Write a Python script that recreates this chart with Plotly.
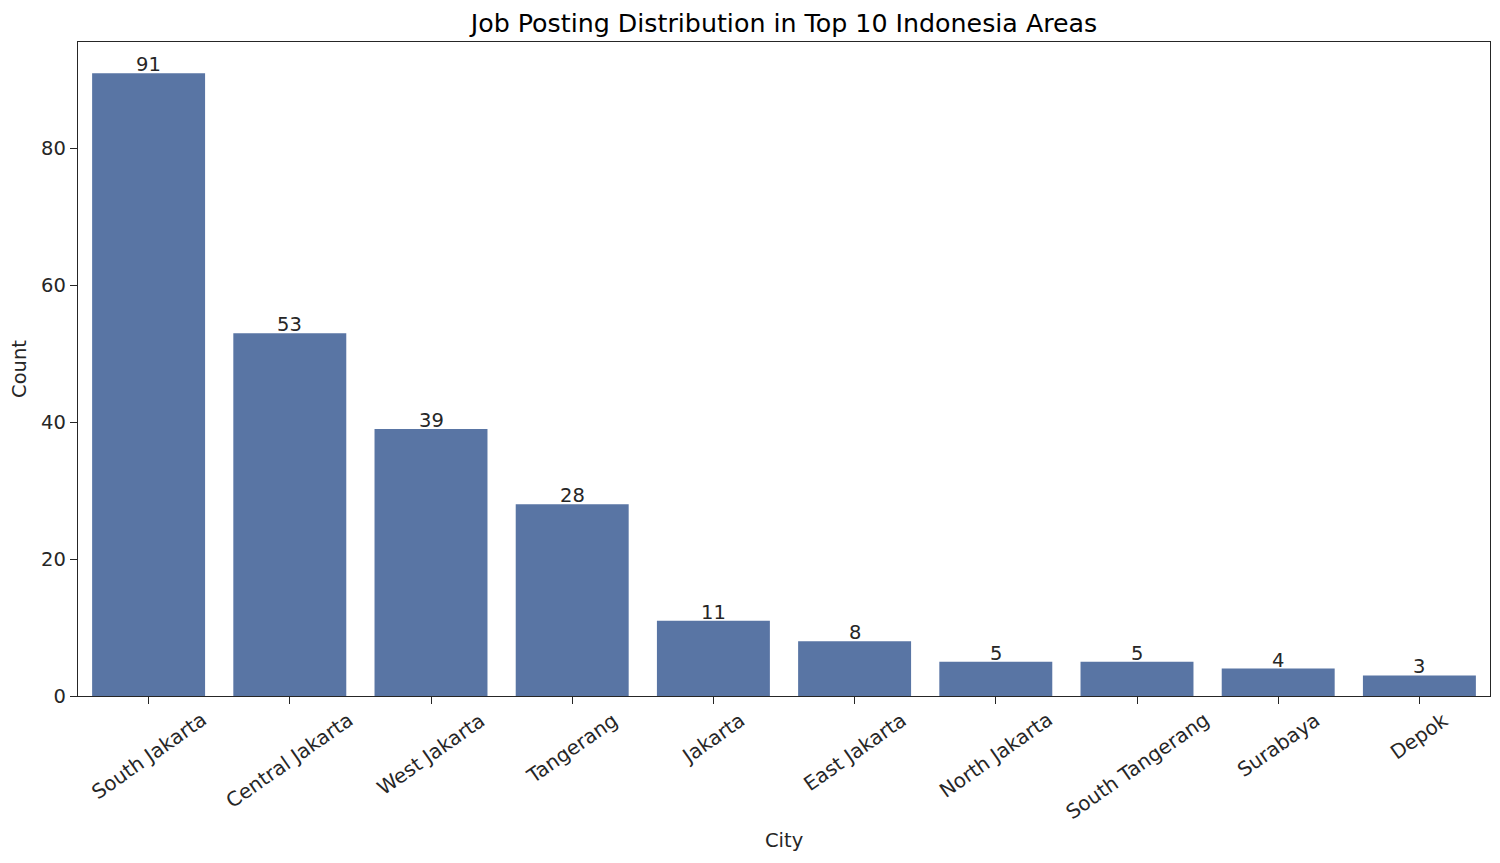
import plotly.graph_objects as go

cities = ["South Jakarta", "Central Jakarta", "West Jakarta", "Tangerang", "Jakarta",
          "East Jakarta", "North Jakarta", "South Tangerang", "Surabaya", "Depok"]
counts = [91, 53, 39, 28, 11, 8, 5, 5, 4, 3]
yticks = [0, 20, 40, 60, 80]

FONT = "DejaVu Sans"
BAR = "#5975a4"
INK = "#262626"

# page body adds an 8px offset; size/margins compensate for it
W, H = 1492, 855
L, R, T, B = 70, 10, 34, 167
PH = H - T - B

fig = go.Figure()
fig.add_trace(go.Bar(x=list(range(len(cities))), y=counts, marker_color=BAR,
                     marker_line_width=0, width=0.8, hoverinfo="x+y"))

annotations = []
for i, (c, v) in enumerate(zip(cities, counts)):
    annotations.append(dict(x=i, y=v, xref="x", yref="y", text=str(v), showarrow=False,
                            xanchor="center", yanchor="bottom", yshift=-5,
                            font=dict(family=FONT, size=19.5, color=INK)))
    annotations.append(dict(x=i, y=0, xref="x", yref="y", text=c, showarrow=False,
                            xanchor="center", yanchor="top", yshift=-9, textangle=-35,
                            font=dict(family=FONT, size=20, color=INK)))

annotations.append(dict(text="City", x=0.5, y=-(832 - 688) / PH, xref="paper", yref="paper",
                        xanchor="center", yanchor="middle", showarrow=False,
                        font=dict(family=FONT, size=19.5, color=INK)))

fig.update_layout(
    width=W, height=H,
    margin=dict(l=L, r=R, t=T, b=B, autoexpand=False),
    paper_bgcolor="white", plot_bgcolor="white",
    showlegend=False,
    font=dict(family=FONT, size=19.5, color=INK),
    title=dict(text="Job Posting Distribution in Top 10 Indonesia Areas",
               xref="paper", x=0.5, xanchor="center", yref="container", y=1 - 15 / H,
               yanchor="middle", font=dict(family=FONT, size=25.3, color="black")),
    annotations=annotations,
    bargap=0.2,
)

fig.update_xaxes(range=[-0.5, 9.5], tickvals=list(range(len(cities))), ticktext=[""] * len(cities),
                 showline=True, linecolor=INK, linewidth=1.3, mirror=True,
                 ticks="outside", ticklen=7, tickwidth=1.3, tickcolor=INK,
                 showgrid=False, zeroline=False, automargin=False)
fig.update_yaxes(range=[0, 95.55], tickvals=yticks, ticktext=[str(t) for t in yticks],
                 showline=True, linecolor=INK, linewidth=1.3, mirror=True,
                 ticks="outside", ticklen=7, tickwidth=1.3, tickcolor=INK,
                 tickfont=dict(family=FONT, size=19.5, color=INK),
                 showgrid=False, zeroline=False, automargin=False,
                 title=dict(text="Count", standoff=9, font=dict(family=FONT, size=19.5, color=INK)))

fig.write_html("out.html")
